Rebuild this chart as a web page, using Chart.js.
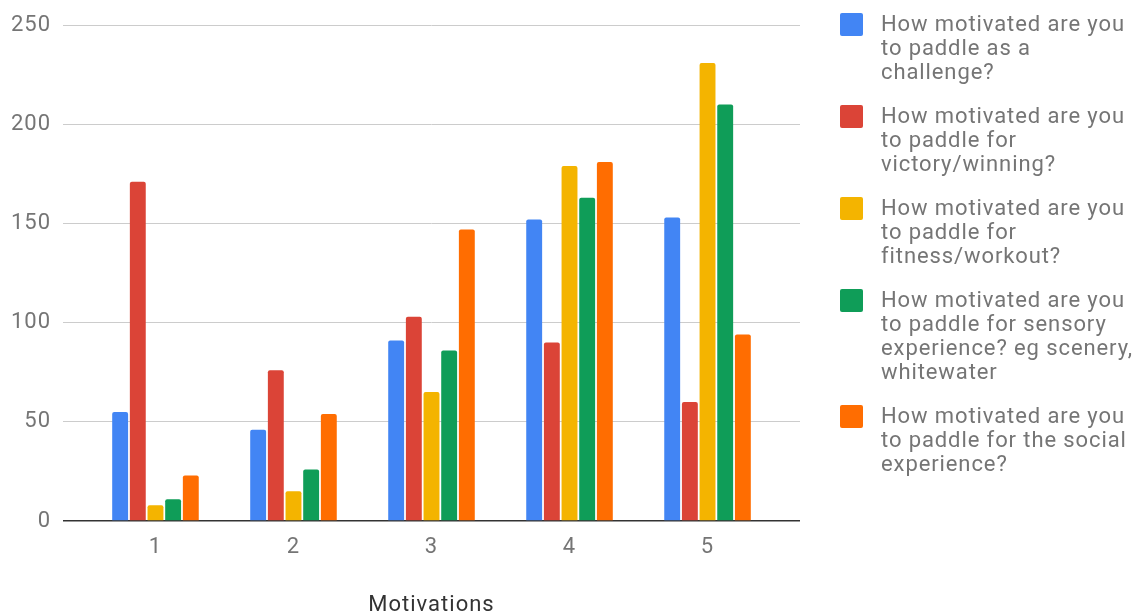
<!DOCTYPE html>
<html>
<head>
<meta charset="utf-8">
<script src="https://cdn.jsdelivr.net/npm/chart.js@4.4.1/dist/chart.umd.min.js"></script>
<style>
  html, body { margin: 0; padding: 0; background: #fff; }
  #wrap { position: relative; width: 1144px; height: 615px; overflow: hidden; }
  #chart { position: absolute; left: 0; top: 0; }
  #legend { position: absolute; left: 840px; top: 12px; width: 300px;
            font-family: Roboto, sans-serif; font-size: 22px; line-height: 24px;
            letter-spacing: 0.9px; color: #757575; }
  .item { display: flex; align-items: flex-start; margin-bottom: 20px; }
  .swatch { width: 23px; height: 23px; border-radius: 2px; flex: none; margin-top: 1px; margin-right: 18px; }
  .text { width: 262px; }
</style>
</head>
<body>
<div id="wrap">
  <canvas id="chart" width="1144" height="615"></canvas>
  <div id="legend"></div>
</div>
<script>
// Response counts per motivation rating (1-5)
const categories = [1, 2, 3, 4, 5];
const seriesLabels = [
  'How motivated are you to paddle as a challenge?',
  'How motivated are you to paddle for victory/winning?',
  'How motivated are you to paddle for fitness/workout?',
  'How motivated are you to paddle for sensory experience? eg scenery, whitewater',
  'How motivated are you to paddle for the social experience?'
];
const challenge = [55, 46, 91, 152, 153];
const victory   = [171, 76, 103, 90, 60];
const fitness   = [8, 15, 65, 179, 231];
const sensory   = [11, 26, 86, 163, 210];
const social    = [23, 54, 147, 181, 94];
const yTicks    = [0, 50, 100, 150, 200, 250];
const seriesColors = ['#4285F4', '#DB4437', '#F4B400', '#0F9D58', '#FF6D01'];

const seriesValues = [challenge, victory, fitness, sensory, social];

const datasets = seriesValues.map((vals, i) => ({
  label: seriesLabels[i],
  data: categories.map((c, j) => ({ x: c, y: vals[j] })),
  backgroundColor: seriesColors[i],
  borderRadius: { topLeft: 2, topRight: 2 },
  borderSkipped: 'bottom',
  categoryPercentage: 0.64,
  barPercentage: 0.9
}));

const textSpacing = {
  id: 'textSpacing',
  beforeUpdate(chart) { chart.ctx.letterSpacing = '1px'; },
  beforeDraw(chart) { chart.ctx.letterSpacing = '1px'; }
};

new Chart(document.getElementById('chart'), {
  type: 'bar',
  data: { datasets },
  plugins: [textSpacing],
  options: {
    responsive: false,
    animation: false,
    layout: { padding: { top: 24, right: 344, left: 0, bottom: 0 } },
    plugins: { legend: { display: false }, tooltip: { enabled: false } },
    scales: {
      x: {
        type: 'linear',
        offset: false,
        min: 0.33,
        max: 5.67,
        afterFit: s => { s.height = 94; },
        afterBuildTicks: s => { s.ticks = categories.map(v => ({ value: v })); },
        grid: { display: false, offset: false },
        border: { display: false },
        ticks: {
          includeBounds: false,
          padding: 5,
          color: '#757575',
          font: { family: 'Roboto', size: 22 },
          callback: v => String(v)
        },
        title: {
          display: true,
          text: 'Motivations',
          color: '#333333',
          font: { family: 'Roboto', size: 22 },
          padding: { top: 0, bottom: -4 }
        }
      },
      y: {
        min: 0,
        max: 250,
        afterFit: s => { s.width = 63; },
        afterBuildTicks: s => { s.ticks = yTicks.map(v => ({ value: v })); },
        border: { display: false },
        grid: {
          drawTicks: false,
          color: ctx => (ctx.tick && ctx.tick.value === 0 ? '#333333' : '#cccccc'),
          lineWidth: ctx => (ctx.tick && ctx.tick.value === 0 ? 1.5 : 1)
        },
        ticks: {
          padding: 12,
          color: '#757575',
          font: { family: 'Roboto', size: 22 }
        }
      }
    }
  }
});

// Legend built from the dataset labels and colours
const legend = document.getElementById('legend');
seriesLabels.forEach((label, i) => {
  const item = document.createElement('div');
  item.className = 'item';
  const sw = document.createElement('div');
  sw.className = 'swatch';
  sw.style.background = seriesColors[i];
  const tx = document.createElement('div');
  tx.className = 'text';
  tx.textContent = label;
  item.appendChild(sw);
  item.appendChild(tx);
  legend.appendChild(item);
});
</script>
</body>
</html>
